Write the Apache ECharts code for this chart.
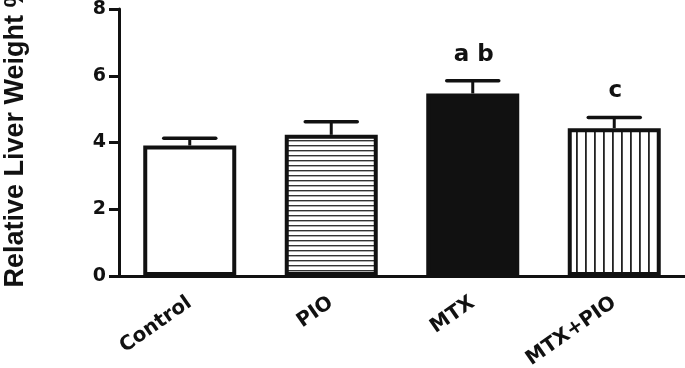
<!DOCTYPE html>
<html>
<head>
<meta charset="utf-8">
<script src="https://cdn.jsdelivr.net/npm/echarts@6/dist/echarts.min.js"></script>
<style>
html,body{margin:0;padding:0;background:#fff;}
#chart{width:685px;height:368px;}
</style>
</head>
<body>
<div id="chart"></div>
<script>
const categories = ['Control', 'PIO', 'MTX', 'MTX+PIO'];
const means = [3.91, 4.23, 5.47, 4.43];
const sems = [0.22, 0.39, 0.38, 0.32];
const annotations = ['', '', 'a b', 'c'];
const yMin = 0, yMax = 8, yStep = 2;
const yTitle = 'Relative Liver Weight %';

function makePattern(horizontal) {
  const c = document.createElement('canvas');
  if (horizontal) {
    c.width = 10; c.height = 5;
    const g = c.getContext('2d');
    g.fillStyle = '#fff'; g.fillRect(0, 0, 10, 5);
    g.fillStyle = '#333'; g.fillRect(0, 0, 10, 1.4);
  } else {
    c.width = 9; c.height = 10;
    const g = c.getContext('2d');
    g.fillStyle = '#fff'; g.fillRect(0, 0, 9, 10);
    g.fillStyle = '#222'; g.fillRect(0, 0, 1.8, 10);
  }
  return { image: c, repeat: 'repeat' };
}

const barStyles = [
  { color: '#fff', borderColor: '#111', borderWidth: 4 },
  { color: makePattern(true), borderColor: '#111', borderWidth: 4 },
  { color: '#111', borderColor: '#111', borderWidth: 4 },
  { color: makePattern(false), borderColor: '#111', borderWidth: 4 }
];

const chart = echarts.init(document.getElementById('chart'));
const tickFont = { fontFamily: 'DejaVu Sans', fontWeight: 'bold', color: '#111' };

chart.setOption({
  animation: false,
  backgroundColor: '#fff',
  grid: { left: 119, right: 0, top: 9, bottom: 92, containLabel: false, outerBoundsMode: 'none' },
  xAxis: {
    type: 'category',
    data: categories,
    axisLine: { lineStyle: { color: '#111', width: 3 } },
    axisTick: { alignWithLabel: true, length: 8, lineStyle: { color: '#111', width: 3 } },
    axisLabel: Object.assign({ rotate: 35, fontSize: 20, margin: 25, interval: 0 }, tickFont),
    splitLine: { show: false }
  },
  yAxis: {
    type: 'value',
    min: yMin, max: yMax, interval: yStep,
    name: yTitle,
    nameLocation: 'middle',
    nameGap: 90,
    nameTextStyle: { fontFamily: "'Liberation Sans', Arial, sans-serif", fontWeight: 'bold', fontSize: 27, color: '#111', padding: [0, 0, 0, 14] },
    axisLine: { show: true, lineStyle: { color: '#111', width: 3 } },
    axisTick: { show: true, length: 10, lineStyle: { color: '#111', width: 3 } },
    axisLabel: Object.assign({ fontSize: 19, margin: 13 }, tickFont),
    splitLine: { show: false }
  },
  series: [
    {
      type: 'bar',
      barWidth: 93,
      data: means.map((v, i) => ({ value: v, itemStyle: barStyles[i] })),
      z: 2
    },
    {
      type: 'custom',
      z: 3,
      data: means.map((v, i) => [i, v, v + sems[i]]),
      renderItem: function (params, api) {
        const i = api.value(0);
        const base = api.coord([i, api.value(1)]);
        const top = api.coord([i, api.value(2)]);
        const half = 26;
        const children = [
          { type: 'line', shape: { x1: base[0], y1: base[1], x2: top[0], y2: top[1] }, style: { stroke: '#111', lineWidth: 3 } },
          { type: 'line', shape: { x1: top[0] - half, y1: top[1], x2: top[0] + half, y2: top[1] }, style: { stroke: '#111', lineWidth: 3.5, lineCap: 'round' } }
        ];
        const txt = annotations[params.dataIndex];
        if (txt) {
          children.push({
            type: 'text',
            style: { text: txt, x: top[0] + 1, y: top[1] - 26, align: 'center', verticalAlign: 'middle', fontFamily: 'DejaVu Sans', fontWeight: 'bold', fontSize: 23, fill: '#111' }
          });
        }
        return { type: 'group', children: children };
      }
    }
  ]
});
</script>
</body>
</html>
